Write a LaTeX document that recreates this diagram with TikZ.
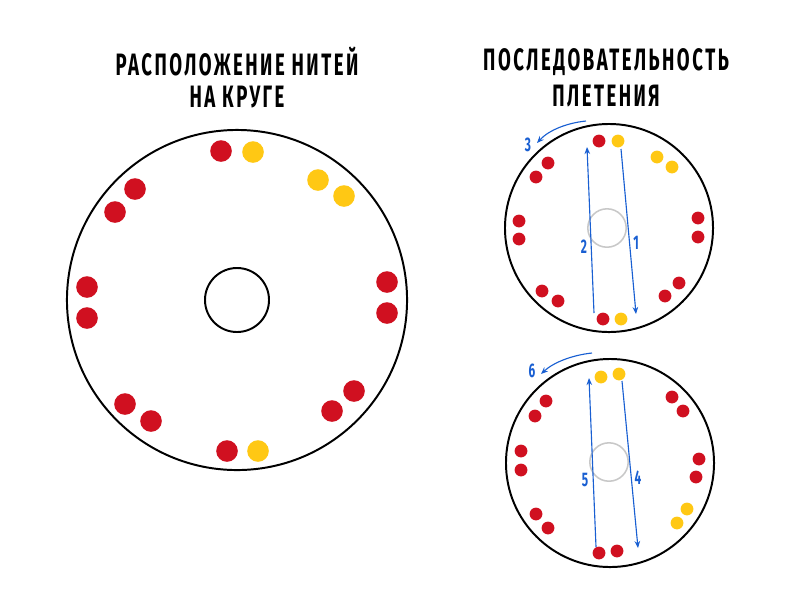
\documentclass[tikz,border=0pt]{standalone}
\usepackage{fontspec}
\setmainfont{Fira Sans}
\newfontfamily\condfont[FakeStretch=0.6,LetterSpace=8]{Fira Sans}
\usetikzlibrary{arrows.meta}

\definecolor{dotred}{RGB}{208,16,32}
\definecolor{dotyel}{RGB}{255,200,20}
\definecolor{seqblue}{RGB}{25,95,210}
\definecolor{holegray}{RGB}{200,200,200}

\begin{document}
\begin{tikzpicture}[x=0.025cm,y=-0.025cm,
  title/.style={font=\condfont\bfseries\fontsize{22}{26}\selectfont,align=center,inner sep=0pt},
  num/.style={font=\condfont\bfseries\fontsize{14}{16}\selectfont,text=seqblue,inner sep=0pt},
  ring/.style={black,line width=1.4pt},
  hole/.style={holegray,line width=1.1pt},
  seq/.style={seqblue,line width=0.8pt,-{Stealth[length=5pt,width=4pt]}}]
\useasboundingbox (0,0) rectangle (800,600);

% titles
\node[title] (t1) at (237,62) {РАСПОЛОЖЕНИЕ НИТЕЙ};
\node[title] (t2) at (237,97) {НА КРУГЕ};
\node[title] (t3) at (606,62) {ПОСЛЕДОВАТЕЛЬНОСТЬ};
\node[title] (t4) at (606,96) {ПЛЕТЕНИЯ};

% big disc
\coordinate (big) at (237,300);
\draw[ring] (big) circle [radius=4.25cm];
\draw[ring] (big) circle [radius=0.8cm];
\foreach \x/\y/\c in {221/151/dotred, 253/152/dotyel, 318/180/dotyel, 344/196/dotyel,
    135/189/dotred, 115/212/dotred, 87/287/dotred, 87/318/dotred,
    387/282/dotred, 387/313/dotred, 125/404/dotred, 151/421/dotred,
    354/391/dotred, 332/411/dotred, 227/451/dotred, 258/451/dotyel}
  \fill[\c] (\x,\y) circle [radius=0.27cm];

% first step
\coordinate (top) at (609,228);
\draw[ring] (top) circle [radius=2.6cm];
\draw[hole] (607,228) circle [radius=0.48cm];
\foreach \x/\y/\c in {599/141/dotred, 618/141/dotyel, 657/157/dotyel, 672/167/dotyel,
    548/163/dotred, 536/177/dotred, 519/221/dotred, 519/239/dotred,
    698/218/dotred, 698/237/dotred, 542/291/dotred, 558/301/dotred,
    679/283/dotred, 665/296/dotred, 603/319/dotred, 621/319/dotyel}
  \fill[\c] (\x,\y) circle [radius=0.16cm];
\coordinate (s1) at (621,149);
\coordinate (e1) at (636,314);
\coordinate (s2) at (594,313);
\coordinate (e2) at (587,147);
\coordinate (s3) at (586,121);
\coordinate (e3) at (537,143);
\draw[seq] (s1) -- (e1);
\draw[seq] (s2) -- (e2);
\draw[seq] (s3) .. controls (567,123) and (549,130) .. (e3);
\node[num] (l1) at (636,243) {1};
\node[num] (l2) at (584,247) {2};
\node[num] (l3) at (528,145) {3};

% second step
\coordinate (bot) at (610,463);
\draw[ring] (bot) circle [radius=2.6cm];
\draw[hole] (609,462) circle [radius=0.48cm];
\foreach \x/\y/\c in {601/377/dotyel, 619/374/dotyel, 672/397/dotred, 683/411/dotred,
    546/401/dotred, 535/416/dotred, 521/451/dotred, 521/470/dotred,
    699/459/dotred, 696/477/dotred, 536/514/dotred, 548/528/dotred,
    687/509/dotyel, 677/523/dotyel, 599/553/dotred, 617/551/dotred}
  \fill[\c] (\x,\y) circle [radius=0.16cm];
\coordinate (s4) at (622,381);
\coordinate (e4) at (638,548);
\coordinate (s5) at (596,547);
\coordinate (e5) at (589,378);
\coordinate (s6) at (592,353);
\coordinate (e6) at (541,374);
\draw[seq] (s4) -- (e4);
\draw[seq] (s5) -- (e5);
\draw[seq] (s6) .. controls (573,355) and (554,362) .. (e6);
\node[num] (l4) at (638,478) {4};
\node[num] (l5) at (585,480) {5};
\node[num] (l6) at (532,371) {6};

\end{tikzpicture}
\end{document}
